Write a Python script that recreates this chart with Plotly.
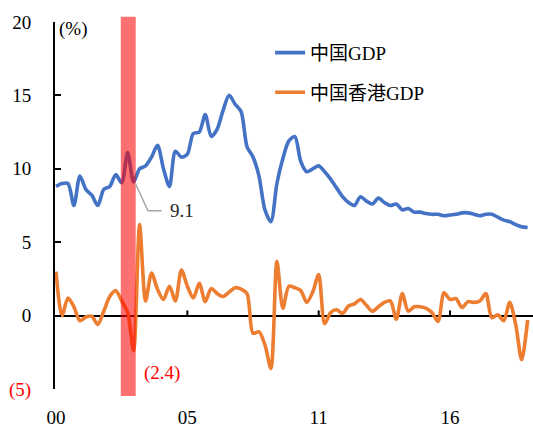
import plotly.graph_objects as go

# Quarterly real GDP growth, 2000Q1 - 2019Q4 (index 0..79)
quarters = list(range(80))

china_gdp = [
    8.8, 9.0, 9.0, 7.5, 9.5, 8.6, 8.2, 7.5, 8.6, 8.8,
    9.6, 9.05, 11.1, 9.1, 10.0, 10.2, 10.8, 11.6, 10.0, 8.8,
    11.2, 10.8, 11.0, 12.4, 12.5, 13.7, 12.2, 12.7, 14.0, 15.0,
    14.4, 13.9, 11.5, 10.8, 9.5, 7.2, 6.4, 9.0, 10.7, 11.9,
    12.2, 10.5, 9.8, 10.0, 10.2, 9.8, 9.3, 8.7, 8.1, 7.7,
    7.5, 8.1, 7.8, 7.6, 8.0, 7.7, 7.5, 7.6, 7.2, 7.3,
    7.05, 7.05, 6.95, 6.9, 6.9, 6.8, 6.85, 6.9, 7.0, 7.0,
    6.9, 6.8, 6.9, 6.9, 6.7, 6.5, 6.4, 6.2, 6.05, 6.0,
]

hk_gdp = [
    3.0, 0.0, 1.2, 0.6, -0.35, -0.1, -0.05, -0.6, 0.3, 1.3,
    1.7, 1.0, 0.2, -2.4, 6.2, 1.0, 2.9, 1.8, 1.1, 2.0,
    1.0, 3.1, 2.0, 1.2, 2.2, 0.95, 1.85, 1.5, 1.3, 1.6,
    1.9, 1.8, 1.5, -1.2, -1.1, -2.0, -3.6, 3.7, 0.5, 2.0,
    1.9, 1.7, 0.9, 1.6, 2.8, -0.55, 0.2, 0.4, 0.15, 0.65,
    0.8, 1.1, 0.7, 0.3, 0.6, 0.9, 1.0, -0.25, 1.5, 0.3,
    0.6, 0.6, 0.5, 0.2, -0.4, 1.55, 1.1, 1.15, 0.55, 0.95,
    0.9, 1.0, 1.5, -0.15, 0.05, -0.35, 0.9, -0.6, -3.0, -0.3,
]

x_tickvals = [0, 22, 44, 66]
x_ticktext = ["00", "05", "11", "16"]
y_tickvals = [-5, 0, 5, 10, 15, 20]
y_ticktext = ["<span style='color:#FF0000'>(5)</span>", "0", "5", "10", "15", "20"]

# SARS period highlight (quarter index span)
sars_start, sars_end = 10.85, 13.35

china_label_idx = 13
hk_label_idx = 13

SERIF = "Liberation Serif, 'Times New Roman', 'Noto Sans CJK SC', serif"
BLUE = "#4472C4"
ORANGE = "#ED7D31"

fig = go.Figure()
fig.add_trace(go.Scatter(
    x=quarters, y=china_gdp, mode="lines", name="中国GDP",
    line=dict(color=BLUE, width=3.6, shape="spline", smoothing=0.8),
    legendgroup="cn",
))
fig.add_trace(go.Scatter(
    x=quarters, y=hk_gdp, mode="lines", name="中国香港GDP",
    line=dict(color=ORANGE, width=3.6, shape="spline", smoothing=0.8),
    legendgroup="hk",
))

# translucent band over the SARS quarters
fig.add_shape(type="rect", xref="x", yref="paper",
              x0=sars_start, x1=sars_end, y0=-0.019, y1=1.014,
              fillcolor="rgba(255,0,0,0.56)", line=dict(width=0), layer="above")

# small upward ticks on the zero line
for tv in x_tickvals[1:]:
    fig.add_shape(type="line", xref="x", yref="y", x0=tv, x1=tv, y0=0, y1=0.35,
                  line=dict(color="black", width=2), layer="above")

# leader line for the China 2003Q2 value
fig.add_shape(type="path", xref="x", yref="y",
              path=f"M {china_label_idx + 0.3},{china_gdp[china_label_idx] - 0.1} "
                   f"L {china_label_idx + 2.4},7.14 L {china_label_idx + 4.7},7.14",
              line=dict(color="#A6A6A6", width=1.5), layer="above")

fig.add_annotation(x=china_label_idx + 5.7, y=7.14, xref="x", yref="y",
                   text=f"{china_gdp[china_label_idx]:.1f}", showarrow=False,
                   xanchor="left", yanchor="middle",
                   font=dict(family=SERIF, size=19, color="#262626"))
fig.add_annotation(x=hk_label_idx + 1.4, y=-3.9, xref="x", yref="y",
                   text=f"({abs(hk_gdp[hk_label_idx]):.1f})", showarrow=False,
                   xanchor="left", yanchor="middle",
                   font=dict(family=SERIF, size=19, color="#FF0000"))
fig.add_annotation(x=0.005, y=1.015, xref="paper", yref="paper",
                   text="(%)", showarrow=False, xanchor="left", yanchor="top",
                   font=dict(family=SERIF, size=19, color="black"))

fig.update_layout(
    width=533, height=428,
    margin=dict(l=55, r=0, t=22, b=36),
    paper_bgcolor="white", plot_bgcolor="white",
    font=dict(family=SERIF, size=19, color="black"),
    showlegend=True,
    legend=dict(x=0.45, y=0.968, xanchor="left", yanchor="top",
                bgcolor="rgba(0,0,0,0)", tracegroupgap=12,
                font=dict(family=SERIF, size=19, color="black")),
    xaxis=dict(range=[-0.17, 79.9], tickvals=x_tickvals, ticktext=x_ticktext,
               showline=False, showgrid=False, zeroline=False, ticks="",
               ticklabelstandoff=15, tickfont=dict(family=SERIF, size=19)),
    yaxis=dict(range=[-5, 20], tickvals=y_tickvals, ticktext=y_ticktext,
               showline=True, linecolor="black", linewidth=2,
               ticks="inside", ticklen=6, tickwidth=2, tickcolor="black",
               showgrid=False, zeroline=True, zerolinecolor="black", zerolinewidth=2,
               ticklabelstandoff=18, tickfont=dict(family=SERIF, size=19)),
)

fig.write_html("out.html")
